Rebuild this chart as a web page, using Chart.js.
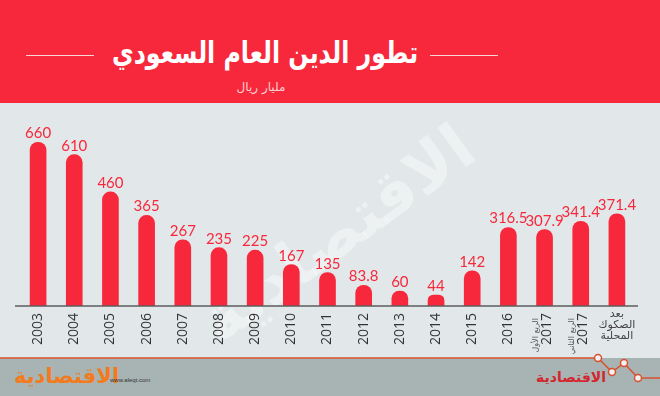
<!DOCTYPE html>
<html lang="ar">
<head>
    <meta charset="UTF-8">
    <title>تطور الدين العام السعودي</title>
    <script src="https://cdn.jsdelivr.net/npm/chart.js"></script>
    <style>
        body {
            margin: 0;
            width: 660px;
            height: 396px;
            overflow: hidden;
            background-color: #e2e8e9;
            position: relative;
        }
        #header {
            position: absolute;
            left: 0; top: 0;
            width: 660px; height: 103px;
            background-color: #f7283b;
        }
        #title {
            position: absolute;
            left: 0; width: 530px;
            top: 35px;
            text-align: center;
            color: #fff;
            font: bold 30px "DejaVu Sans", sans-serif;
            direction: rtl;
            transform: scaleX(0.79);
            transform-origin: 265px 0;
        }
        .hline {
            position: absolute;
            top: 55px;
            height: 1px;
            width: 68px;
            background: #fbd6d9;
        }
        #subtitle {
            position: absolute;
            left: 0; width: 522px;
            top: 80px;
            text-align: center;
            color: #fbd0d4;
            font: 12px "DejaVu Sans", sans-serif;
            direction: rtl;
        }
        #footer {
            position: absolute;
            left: 0; top: 358px;
            width: 660px; height: 38px;
            background-color: #a7b4b3;
        }
        #logoLeft {
            position: absolute;
            left: 14px; top: 364px;
            color: #f27b20;
            font: bold 21px "DejaVu Sans", sans-serif;
            direction: rtl;
        }
        #site {
            position: absolute;
            left: 110px; top: 377px;
            color: #333;
            font: 6px "Liberation Sans", sans-serif;
        }
        #logoRight {
            position: absolute;
            left: 536px; top: 369px;
            color: #d3262e;
            font: bold 14px "DejaVu Sans", sans-serif;
            direction: rtl;
        }
        #chart {
            position: absolute;
            left: 0; top: 0;
        }
        svg {
            position: absolute;
            left: 0; top: 0;
        }
    </style>
</head>
<body>
    <div id="header">
        <div class="hline" style="left:26px"></div>
        <div class="hline" style="left:430px"></div>
        <div id="title">تطور الدين العام السعودي</div>
        <div id="subtitle">مليار ريال</div>
    </div>
    <div id="footer"></div>
    <svg width="660" height="396">
        <polyline points="0,358 598,358 612,372 624,363 638,378 660,378" fill="none" stroke="#d9502e" stroke-width="1.5"/>
        <circle cx="598" cy="358" r="3.5" fill="#f2f2f2" stroke="#d9502e" stroke-width="1.5"/>
        <circle cx="612" cy="372" r="3.5" fill="#f2f2f2" stroke="#d9502e" stroke-width="1.5"/>
        <circle cx="624" cy="363" r="3.5" fill="#f2f2f2" stroke="#d9502e" stroke-width="1.5"/>
        <circle cx="638" cy="378" r="3.5" fill="#f2f2f2" stroke="#d9502e" stroke-width="1.5"/>
    </svg>
    <div id="logoLeft">الاقتصادية</div>
    <div id="site">www.aleqt.com</div>
    <div id="logoRight">الاقتصادية</div>

    <canvas id="chart" width="660" height="396"></canvas>

    <script>
        // مليار ريال
        const categories = ['2003', '2004', '2005', '2006', '2007', '2008', '2009', '2010', '2011',
            '2012', '2013', '2014', '2015', '2016', '2017 الربع الأول', '2017 الربع الثاني', 'بعد الصكوك المحلية'];
        const debt = [660, 610, 460, 365, 267, 235, 225, 167, 135, 83.8, 60, 44, 142, 316.5, 307.9, 341.4, 371.4];
        const tickYears = ['2003', '2004', '2005', '2006', '2007', '2008', '2009', '2010', '2011',
            '2012', '2013', '2014', '2015', '2016', '2017', '2017', ''];
        const tickNotes = ['', '', '', '', '', '', '', '', '', '', '', '', '', '',
            'الربع الأول', 'الربع الثاني', ''];
        const lastTick = ['بعد', 'الصكوك', 'المحلية'];

        const red = '#f8283c';

        const decorPlugin = {
            id: 'decor',
            beforeDatasetsDraw(chart) {
                // watermark
                const ctx = chart.ctx;
                ctx.save();
                ctx.translate(340, 238);
                ctx.rotate(-36 * Math.PI / 180);
                ctx.fillStyle = 'rgba(255,255,255,0.4)';
                ctx.font = 'bold 64px "DejaVu Sans"';
                ctx.textAlign = 'center';
                ctx.textBaseline = 'middle';
                ctx.fillText('الاقتصادية', 0, 0);
                ctx.restore();
            },
            afterDatasetsDraw(chart) {
                const ctx = chart.ctx;
                const x = chart.scales.x;
                const y = chart.scales.y;
                const base = y.getPixelForValue(0);
                ctx.save();
                // axis line
                ctx.strokeStyle = '#5c5c5c';
                ctx.lineWidth = 1.5;
                ctx.beginPath();
                ctx.moveTo(15, base);
                ctx.lineTo(638, base);
                ctx.stroke();

                const meta = chart.getDatasetMeta(0);
                debt.forEach((v, i) => {
                    const bar = meta.data[i];
                    // value
                    ctx.fillStyle = red;
                    ctx.font = '15px Lato';
                    ctx.textAlign = 'center';
                    ctx.textBaseline = 'alphabetic';
                    ctx.fillText(String(v), bar.x, bar.y - 4);

                    const cx = x.getPixelForValue(i);
                    ctx.fillStyle = '#333';
                    if (tickYears[i]) {
                        const shift = tickNotes[i] ? 2 : 0;
                        ctx.save();
                        ctx.translate(cx + shift, base + 7);
                        ctx.rotate(-Math.PI / 2);
                        ctx.textAlign = 'right';
                        ctx.textBaseline = 'middle';
                        ctx.font = '14px "Open Sans"';
                        ctx.fillText(tickYears[i], 0, 0);
                        if (tickNotes[i]) {
                            ctx.font = '8px "DejaVu Sans"';
                            ctx.fillStyle = '#555';
                            ctx.fillText(tickNotes[i], -5, -11);
                        }
                        ctx.restore();
                    } else {
                        ctx.font = '11px "DejaVu Sans"';
                        ctx.textAlign = 'center';
                        ctx.textBaseline = 'middle';
                        ctx.fillStyle = '#444';
                        lastTick.forEach((t, k) => ctx.fillText(t, cx, base + 8 + k * 11));
                    }
                });
                ctx.restore();
            }
        };

        new Chart(document.getElementById('chart'), {
            type: 'bar',
            data: {
                labels: categories,
                datasets: [{
                    data: debt,
                    backgroundColor: red,
                    barThickness: 16,
                    borderRadius: 8,
                    borderSkipped: 'start'
                }]
            },
            options: {
                responsive: false,
                animation: false,
                layout: { padding: { left: 20, right: 25, top: 110, bottom: 90 } },
                plugins: { legend: { display: false }, tooltip: { enabled: false } },
                scales: {
                    x: { display: false },
                    y: { display: false, min: 0, max: 790 }
                }
            },
            plugins: [decorPlugin]
        });
    </script>
</body>
</html>
